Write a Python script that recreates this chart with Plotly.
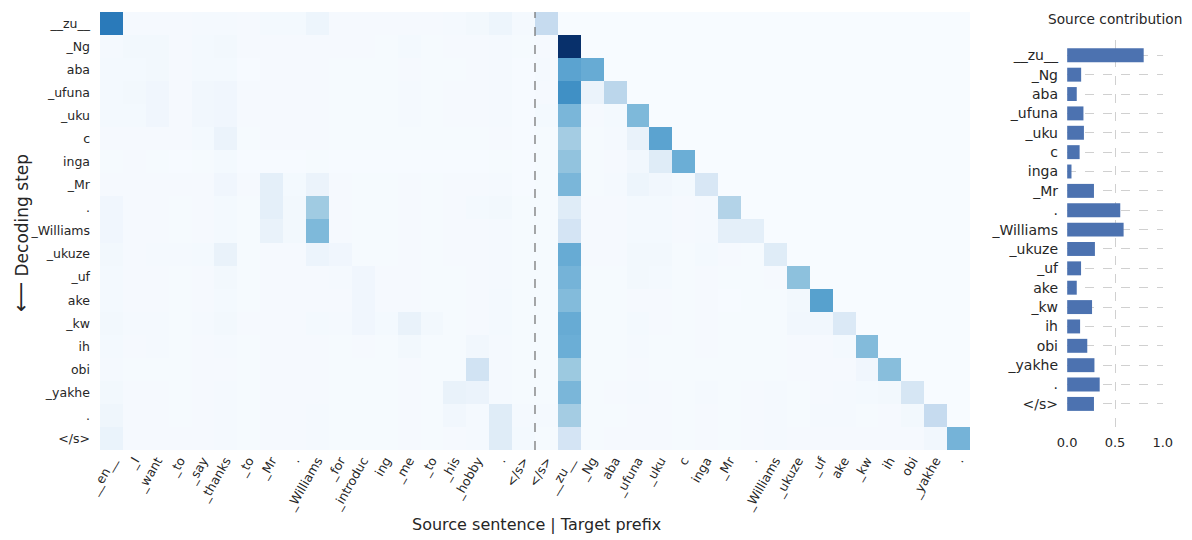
import plotly.graph_objects as go

# ---------------- data ----------------
source_tokens = ["__en__", "_I", "_want", "_to", "_say", "_thanks", "_to", "_Mr", ".", "_Williams",
                 "_for", "_introduc", "ing", "_me", "_to", "_his", "_hobby", ".", "</s>"]
target_tokens = ["</s>", "__zu__", "_Ng", "aba", "_ufuna", "_uku", "c", "inga", "_Mr", ".",
                 "_Williams", "_ukuze", "_uf", "ake", "_kw", "ih", "obi", "_yakhe", "."]
decoding_steps = ["__zu__", "_Ng", "aba", "_ufuna", "_uku", "c", "inga", "_Mr", ".", "_Williams",
                  "_ukuze", "_uf", "ake", "_kw", "ih", "obi", "_yakhe", ".", "</s>"]

source_attn = [
    [0.600, 0.010, 0.010, 0.010, 0.012, 0.012, 0.010, 0.015, 0.015, 0.040, 0.010, 0.010, 0.010, 0.010, 0.010, 0.012, 0.020, 0.040, 0.012],
    [0.012, 0.020, 0.020, 0.010, 0.015, 0.020, 0.010, 0.010, 0.010, 0.010, 0.010, 0.010, 0.008, 0.015, 0.008, 0.010, 0.010, 0.012, 0.008],
    [0.015, 0.015, 0.020, 0.010, 0.015, 0.015, 0.005, 0.010, 0.010, 0.010, 0.008, 0.008, 0.008, 0.010, 0.008, 0.008, 0.010, 0.012, 0.006],
    [0.015, 0.020, 0.030, 0.010, 0.025, 0.030, 0.010, 0.010, 0.010, 0.010, 0.008, 0.008, 0.008, 0.012, 0.008, 0.010, 0.010, 0.012, 0.006],
    [0.015, 0.015, 0.030, 0.010, 0.025, 0.030, 0.010, 0.010, 0.010, 0.010, 0.008, 0.008, 0.008, 0.012, 0.008, 0.010, 0.010, 0.012, 0.006],
    [0.010, 0.010, 0.010, 0.010, 0.015, 0.050, 0.008, 0.010, 0.010, 0.010, 0.008, 0.008, 0.008, 0.008, 0.008, 0.008, 0.008, 0.010, 0.006],
    [0.008, 0.010, 0.008, 0.006, 0.008, 0.015, 0.006, 0.006, 0.006, 0.008, 0.006, 0.006, 0.006, 0.006, 0.006, 0.006, 0.006, 0.008, 0.005],
    [0.010, 0.010, 0.010, 0.010, 0.010, 0.030, 0.010, 0.080, 0.015, 0.050, 0.010, 0.008, 0.008, 0.010, 0.008, 0.010, 0.010, 0.012, 0.006],
    [0.030, 0.010, 0.010, 0.008, 0.010, 0.015, 0.008, 0.080, 0.020, 0.310, 0.010, 0.008, 0.008, 0.010, 0.008, 0.010, 0.015, 0.020, 0.008],
    [0.030, 0.010, 0.010, 0.008, 0.010, 0.015, 0.008, 0.060, 0.020, 0.380, 0.010, 0.008, 0.008, 0.010, 0.008, 0.010, 0.010, 0.012, 0.008],
    [0.020, 0.010, 0.012, 0.012, 0.015, 0.060, 0.008, 0.010, 0.010, 0.045, 0.030, 0.008, 0.008, 0.010, 0.008, 0.010, 0.010, 0.012, 0.008],
    [0.015, 0.010, 0.010, 0.008, 0.010, 0.020, 0.008, 0.010, 0.010, 0.010, 0.012, 0.030, 0.010, 0.010, 0.008, 0.008, 0.010, 0.012, 0.008],
    [0.015, 0.010, 0.010, 0.008, 0.010, 0.015, 0.008, 0.010, 0.010, 0.010, 0.010, 0.030, 0.010, 0.010, 0.008, 0.008, 0.010, 0.015, 0.008],
    [0.020, 0.012, 0.012, 0.008, 0.012, 0.020, 0.010, 0.010, 0.010, 0.015, 0.012, 0.030, 0.015, 0.060, 0.020, 0.008, 0.010, 0.015, 0.008],
    [0.015, 0.010, 0.012, 0.008, 0.010, 0.012, 0.008, 0.010, 0.010, 0.010, 0.008, 0.010, 0.008, 0.020, 0.008, 0.008, 0.025, 0.012, 0.008],
    [0.012, 0.008, 0.008, 0.008, 0.010, 0.010, 0.008, 0.010, 0.010, 0.010, 0.008, 0.008, 0.008, 0.010, 0.008, 0.008, 0.160, 0.012, 0.008],
    [0.020, 0.010, 0.010, 0.008, 0.010, 0.012, 0.008, 0.010, 0.010, 0.010, 0.008, 0.008, 0.008, 0.010, 0.008, 0.060, 0.050, 0.012, 0.008],
    [0.035, 0.010, 0.010, 0.008, 0.010, 0.012, 0.008, 0.010, 0.010, 0.012, 0.008, 0.008, 0.008, 0.010, 0.008, 0.025, 0.012, 0.100, 0.012],
    [0.055, 0.010, 0.010, 0.010, 0.010, 0.012, 0.008, 0.010, 0.010, 0.012, 0.008, 0.008, 0.008, 0.010, 0.008, 0.010, 0.012, 0.100, 0.015],
]

target_attn = [
    [0.210, 0, 0, 0, 0, 0, 0, 0, 0, 0, 0, 0, 0, 0, 0, 0, 0, 0, 0],
    [0.010, 0.840, 0, 0, 0, 0, 0, 0, 0, 0, 0, 0, 0, 0, 0, 0, 0, 0, 0],
    [0.012, 0.460, 0.430, 0, 0, 0, 0, 0, 0, 0, 0, 0, 0, 0, 0, 0, 0, 0, 0],
    [0.010, 0.530, 0.050, 0.240, 0, 0, 0, 0, 0, 0, 0, 0, 0, 0, 0, 0, 0, 0, 0],
    [0.015, 0.390, 0.010, 0.015, 0.380, 0, 0, 0, 0, 0, 0, 0, 0, 0, 0, 0, 0, 0, 0],
    [0.008, 0.300, 0.008, 0.012, 0.060, 0.460, 0, 0, 0, 0, 0, 0, 0, 0, 0, 0, 0, 0, 0],
    [0.008, 0.340, 0.008, 0.010, 0.025, 0.100, 0.420, 0, 0, 0, 0, 0, 0, 0, 0, 0, 0, 0, 0],
    [0.008, 0.390, 0.008, 0.012, 0.040, 0.025, 0.015, 0.130, 0, 0, 0, 0, 0, 0, 0, 0, 0, 0, 0],
    [0.008, 0.100, 0.010, 0.010, 0.015, 0.015, 0.010, 0.012, 0.260, 0, 0, 0, 0, 0, 0, 0, 0, 0, 0],
    [0.008, 0.150, 0.010, 0.010, 0.015, 0.015, 0.010, 0.012, 0.080, 0.080, 0, 0, 0, 0, 0, 0, 0, 0, 0],
    [0.008, 0.430, 0.010, 0.010, 0.020, 0.020, 0.008, 0.015, 0.010, 0.008, 0.100, 0, 0, 0, 0, 0, 0, 0, 0],
    [0.008, 0.400, 0.008, 0.008, 0.020, 0.015, 0.008, 0.010, 0.008, 0.008, 0.010, 0.350, 0, 0, 0, 0, 0, 0, 0],
    [0.008, 0.370, 0.008, 0.008, 0.010, 0.010, 0.008, 0.010, 0.005, 0.008, 0.008, 0.020, 0.470, 0, 0, 0, 0, 0, 0],
    [0.008, 0.430, 0.008, 0.008, 0.015, 0.010, 0.008, 0.010, 0.008, 0.008, 0.008, 0.025, 0.025, 0.120, 0, 0, 0, 0, 0],
    [0.008, 0.420, 0.008, 0.008, 0.012, 0.008, 0.008, 0.010, 0.008, 0.008, 0.008, 0.010, 0.010, 0.015, 0.370, 0, 0, 0, 0],
    [0.008, 0.320, 0.008, 0.008, 0.010, 0.008, 0.008, 0.008, 0.008, 0.008, 0.008, 0.010, 0.010, 0.010, 0.030, 0.360, 0, 0, 0],
    [0.008, 0.390, 0.008, 0.010, 0.012, 0.010, 0.008, 0.012, 0.008, 0.010, 0.012, 0.008, 0.010, 0.012, 0.015, 0.020, 0.140, 0, 0],
    [0.012, 0.300, 0.008, 0.008, 0.010, 0.010, 0.008, 0.010, 0.008, 0.010, 0.012, 0.008, 0.012, 0.012, 0.008, 0.010, 0.020, 0.210, 0],
    [0.008, 0.150, 0.008, 0.010, 0.010, 0.010, 0.008, 0.010, 0.008, 0.010, 0.012, 0.010, 0.010, 0.010, 0.010, 0.010, 0.010, 0.025, 0.400],
]

source_contribution = [0.80, 0.146, 0.10, 0.17, 0.175, 0.13, 0.045, 0.28, 0.555, 0.59,
                       0.29, 0.145, 0.10, 0.26, 0.135, 0.21, 0.285, 0.34, 0.28]

# ---------------- figure ----------------
OFF = 8                      # page body margin
W, H = 1192 - OFF, 540 - OFF
TXT = "#262626"
FONT = "DejaVu Sans"


def esc(s):
    return s.replace("&", "&amp;").replace("<", "&lt;").replace(">", "&gt;")


col_labels = [esc(t) for t in source_tokens + target_tokens]
row_labels = [esc(t) for t in decoding_steps]
col_idx = list(range(len(col_labels)))
row_idx = list(range(len(decoding_steps)))
z = [s + t for s, t in zip(source_attn, target_attn)]

blues = [[0.0, "rgb(247,251,255)"], [0.125, "rgb(222,235,247)"], [0.25, "rgb(198,219,239)"],
         [0.375, "rgb(158,202,225)"], [0.5, "rgb(107,174,214)"], [0.625, "rgb(66,146,198)"],
         [0.75, "rgb(33,113,181)"], [0.875, "rgb(8,81,156)"], [1.0, "rgb(8,48,107)"]]


def px_x(p):
    return (p - OFF) / W


def px_y(p):
    return 1 - (p - OFF) / H


fig = go.Figure()
fig.add_trace(go.Heatmap(
    z=z, x=col_idx, y=row_idx, colorscale=blues, zmin=0, zmax=0.84,
    showscale=False, xaxis="x", yaxis="y", hoverinfo="skip"))

fig.add_trace(go.Bar(
    x=source_contribution, y=row_idx, orientation="h", width=0.72,
    marker=dict(color="#4c72b0", line=dict(width=0)),
    xaxis="x2", yaxis="y2", hoverinfo="skip"))

n_src = len(source_tokens)
fig.add_shape(type="line", xref="x", yref="y domain",
              x0=n_src - 0.5, x1=n_src - 0.5, y0=0, y1=1,
              line=dict(color="#6e6e6e", width=1.2, dash="dash"))

fig.update_layout(
    width=W, height=H,
    margin=dict(l=0, r=0, t=0, b=0, autoexpand=False),
    paper_bgcolor="white", plot_bgcolor="white",
    font=dict(family=FONT, color=TXT, size=12),
    showlegend=False,
    xaxis=dict(domain=[px_x(100), px_x(970)], range=[-0.5, len(col_labels) - 0.5],
               tickmode="array", tickvals=col_idx, ticktext=col_labels, tickangle=-60,
               tickfont=dict(size=12.5, color=TXT), showgrid=False, zeroline=False,
               ticks="", showline=False, anchor="y", automargin=False),
    yaxis=dict(domain=[px_y(450), px_y(12)], range=[len(decoding_steps) - 0.5, -0.5],
               tickmode="array", tickvals=row_idx, ticktext=row_labels,
               tickfont=dict(size=12.5, color=TXT), showgrid=False, zeroline=False,
               ticks="", showline=False, anchor="x", ticklabelstandoff=9, automargin=False),
    xaxis2=dict(domain=[px_x(1067), px_x(1163)], range=[-0.002, 1.002],
                tickmode="array", tickvals=[0, 0.5, 1.0], ticktext=["0.0", "0.5", "1.0"],
                tickfont=dict(size=13, color=TXT), showgrid=True, gridcolor="#d0d0d0",
                griddash="dash", gridwidth=1, zeroline=False, ticks="", showline=False,
                anchor="y2", ticklabelstandoff=1, automargin=False),
    yaxis2=dict(domain=[px_y(432), px_y(40)], range=[19.45, -0.79],
                tickmode="array", tickvals=row_idx, ticktext=row_labels,
                tickfont=dict(size=14, color=TXT), showgrid=True, gridcolor="#d0d0d0",
                griddash="dash", gridwidth=1, zeroline=False, ticks="", showline=False,
                anchor="x2", ticklabelstandoff=8, automargin=False),
)

fig.add_annotation(text="Source sentence | Target prefix", xref="paper", yref="paper",
                   x=px_x(536), y=px_y(524), xanchor="center", yanchor="middle",
                   showarrow=False, font=dict(size=16, color=TXT, family=FONT))
fig.add_annotation(text="<span style='font-size:21px'>⟵</span> Decoding step",
                   xref="paper", yref="paper",
                   x=px_x(21), y=px_y(233), xanchor="center", yanchor="middle",
                   showarrow=False, textangle=-90,
                   font=dict(size=17, color=TXT, family=FONT))
fig.add_annotation(text="Source contribution", xref="paper", yref="paper",
                   x=px_x(1115), y=px_y(19), xanchor="center", yanchor="middle",
                   showarrow=False, font=dict(size=13.7, color=TXT, family=FONT))

fig.write_html("out.html")
